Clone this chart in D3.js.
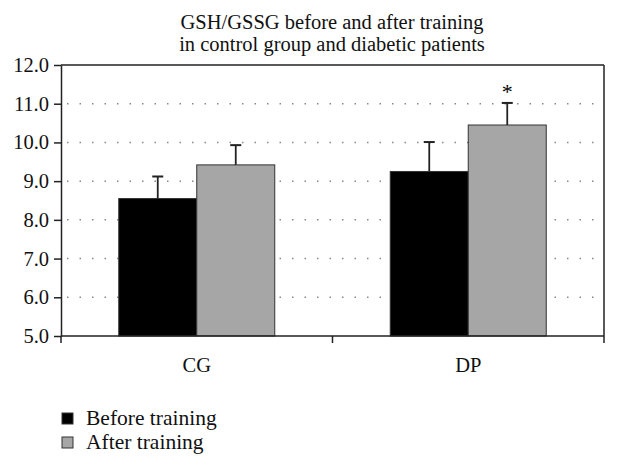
<!DOCTYPE html>
<html><head><meta charset="utf-8">
<script src="https://cdn.jsdelivr.net/npm/d3@7"></script>
<style>body{margin:0;background:#fff}svg{display:block}</style>
</head><body>
<svg id="c" width="620" height="474"></svg>
<script>
const categories = ["CG", "DP"];
const seriesNames = ["Before training", "After training"];
const before = [8.55, 9.25];
const after = [9.42, 10.45];
const beforeErr = [0.57, 0.76];
const afterErr = [0.51, 0.57];
const significance = ["", "*"];
const yTicks = [5, 6, 7, 8, 9, 10, 11, 12];
const colors = ["#000000", "#a6a6a6"];

const font = "'Liberation Serif', 'DejaVu Serif', serif";
const fs = 20.5;
const svg = d3.select("#c");
const m = {l: 61, r: 604, t: 65, b: 336};
const x = d3.scaleBand().domain(categories).range([m.l, m.r]).paddingInner(0).paddingOuter(0);
const xs = d3.scaleBand().domain([0, 1]).range([0, 156]);
const y = d3.scaleLinear().domain([5, 12]).range([m.b, m.t]);

// grid
svg.append("g").selectAll("line").data(yTicks.filter(d => d > 5 && d < 12)).join("line")
  .attr("x1", m.l + 6).attr("x2", m.r).attr("y1", d => y(d)).attr("y2", d => y(d))
  .attr("stroke", "#888").attr("stroke-width", 1.5).attr("stroke-dasharray", "1.5 11");

// frame
svg.append("line").attr("x1", m.l).attr("x2", m.r).attr("y1", m.t).attr("y2", m.t).attr("stroke", "#222").attr("stroke-width", 1.5);
svg.append("line").attr("x1", m.r).attr("x2", m.r).attr("y1", m.t).attr("y2", m.b).attr("stroke", "#222").attr("stroke-width", 1.5);

const data = categories.map((c, i) => [
  {c, s: 0, v: before[i], e: beforeErr[i]},
  {c, s: 1, v: after[i], e: afterErr[i]}
]).flat();

const off = (x.bandwidth() - 156) / 2;
const g = svg.append("g");
g.selectAll("rect").data(data).join("rect")
  .attr("x", d => x(d.c) + off + xs(d.s)).attr("width", xs.bandwidth())
  .attr("y", d => y(d.v)).attr("height", d => y(5) - y(d.v))
  .attr("fill", d => colors[d.s]).attr("stroke", "#333").attr("stroke-width", 1);

const eb = g.selectAll("g.eb").data(data).join("g");
eb.append("line")
  .attr("x1", d => x(d.c) + off + xs(d.s) + xs.bandwidth() / 2)
  .attr("x2", d => x(d.c) + off + xs(d.s) + xs.bandwidth() / 2)
  .attr("y1", d => y(d.v)).attr("y2", d => y(d.v + d.e))
  .attr("stroke", "#222").attr("stroke-width", 1.8);
eb.append("line")
  .attr("x1", d => x(d.c) + off + xs(d.s) + xs.bandwidth() / 2 - 5.5)
  .attr("x2", d => x(d.c) + off + xs(d.s) + xs.bandwidth() / 2 + 5.5)
  .attr("y1", d => y(d.v + d.e)).attr("y2", d => y(d.v + d.e))
  .attr("stroke", "#222").attr("stroke-width", 2);

// significance
categories.forEach((c, i) => {
  if (significance[i]) {
    svg.append("text").attr("x", x(c) + off + xs(1) + xs.bandwidth() / 2)
      .attr("y", y(after[i] + afterErr[i]) - 4).attr("text-anchor", "middle")
      .attr("font-family", font).attr("font-size", 22).text(significance[i]);
  }
});

// y axis
const ya = svg.append("g").attr("transform", `translate(${m.l},0)`)
  .call(d3.axisLeft(y).tickValues(yTicks).tickFormat(d3.format(".1f")).tickSize(7).tickSizeOuter(0));
ya.select(".domain").attr("stroke", "#222").attr("stroke-width", 1.5);
ya.selectAll(".tick line").attr("stroke", "#222").attr("stroke-width", 1.5);
ya.selectAll("text").attr("font-family", font).attr("font-size", fs).attr("fill", "#111").attr("x", -12);

// x axis
const xa = svg.append("g").attr("transform", `translate(0,${m.b})`);
xa.append("line").attr("x1", m.l).attr("x2", m.r).attr("stroke", "#222").attr("stroke-width", 1.5);
const xt = [m.l, ...categories.slice(1).map(c => x(c)), m.r];
xa.selectAll("line.t").data(xt).join("line").attr("class", "t")
  .attr("x1", d => d).attr("x2", d => d).attr("y1", 0).attr("y2", 7).attr("stroke", "#222").attr("stroke-width", 1.5);
xa.selectAll("text").data(categories).join("text")
  .attr("x", d => x(d) + x.bandwidth() / 2).attr("y", 36).attr("text-anchor", "middle")
  .attr("font-family", font).attr("font-size", fs).attr("fill", "#111").text(d => d);

// title
const title = ["GSH/GSSG before and after training", "in control group and diabetic patients"];
svg.append("g").selectAll("text").data(title).join("text")
  .attr("x", 332).attr("y", (d, i) => 29 + i * 22).attr("text-anchor", "middle")
  .attr("font-family", font).attr("font-size", fs).attr("fill", "#111").text(d => d);

// legend
const lg = svg.append("g").selectAll("g").data(seriesNames).join("g")
  .attr("transform", (d, i) => `translate(62,${413 + i * 24})`);
lg.append("rect").attr("width", 11).attr("height", 11).attr("fill", (d, i) => colors[i]).attr("stroke", "#333").attr("stroke-width", 1);
lg.append("text").attr("x", 24).attr("y", 12).attr("font-family", font).attr("font-size", 21.5).attr("fill", "#111").text(d => d);
</script>
</body></html>
